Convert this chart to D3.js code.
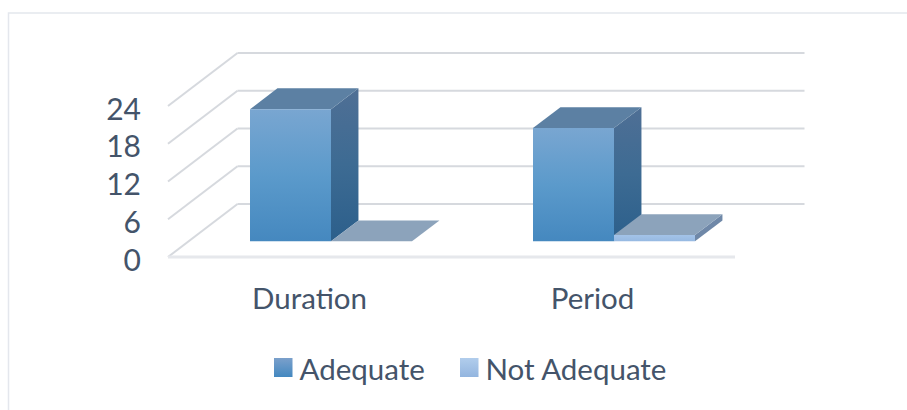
<!DOCTYPE html>
<html>
<head>
<meta charset="utf-8">
<title>Adequacy by duration and period</title>
<script src="https://cdnjs.cloudflare.com/ajax/libs/d3/7.8.5/d3.min.js"></script>
<style>
  html, body { margin: 0; padding: 0; background: #fff; }
  svg { display: block; }
  text { font-family: Lato, "Noto Sans", sans-serif; fill: #44546a; }
</style>
</head>
<body>
<svg id="chart" width="907" height="410"></svg>
<script>
const categories = ['Duration', 'Period'];
const seriesNames = ['Adequate', 'Not Adequate'];
const adequate = [21, 18];
const notAdequate = [0, 1];
const tickLabels = [0, 6, 12, 18, 24];

const svg = d3.select('#chart');
const defs = svg.append('defs');

// Vertical gradients, one per painted surface
function addGradient(id, stops, x2 = 0, y2 = 1) {
  const g = defs.append('linearGradient')
    .attr('id', id)
    .attr('x1', 0).attr('y1', 0)
    .attr('x2', x2).attr('y2', y2);
  stops.forEach(([offset, color]) => {
    g.append('stop').attr('offset', offset).attr('stop-color', color);
  });
}
addGradient('front-a', [[0, '#79a6d1'], [0.5, '#5b9acb'], [1, '#4588bf']]);
addGradient('side-a', [[0, '#4f6f95'], [0.5, '#3d6b93'], [1, '#2c5f8b']]);
addGradient('front-b', [[0, '#a3c3e8'], [1, '#96b9e2']]);
addGradient('swatch-a', [[0, '#7ba0cb'], [1, '#4388c0']]);
addGradient('swatch-b', [[0, '#b1cdec'], [1, '#93b5df']]);

const surfaces = [
  { front: 'url(#front-a)', side: 'url(#side-a)', top: '#5c80a3' },
  { front: 'url(#front-b)', side: '#6f88a8', top: '#8ca3bb' }
];

// Plot box: x along the front edge of the floor, y up the front wall
const x = d3.scaleBand().domain(categories).range([168, 734]);
const xInner = d3.scaleBand().domain(seriesNames).range([61.5, 223.5]);
const y = d3.scaleLinear().domain([0, 24]).range([257, 106]);

// Oblique depth: z = 0 at the front of the floor, z = 1 at the back wall
const depthX = d3.scaleLinear().domain([0, 1]).range([0, 69.5]);
const depthY = d3.scaleLinear().domain([0, 1]).range([0, -53]);
const project = (px, value, z) => [px + depthX(z), y(value) + depthY(z)];
const line = d3.line();

// Frame: only the top and left edges fall inside the page
svg.append('path')
  .attr('d', line([[8.5, 410], [8.5, 13], [907, 13]]))
  .attr('fill', 'none')
  .attr('stroke', '#e4e7ed')
  .attr('stroke-width', 1.5);

// Gridlines on the left and back walls
const grid = svg.append('g').attr('fill', 'none').attr('stroke', '#d6d9de').attr('stroke-width', 2);
tickLabels.forEach((t) => {
  grid.append('path').attr('d', line([project(168, t, 0), project(168, t, 1)]));
  grid.append('path').attr('d', line([project(168, t, 1), project(735, t, 1)]));
});

// Front edge of the floor
svg.append('path')
  .attr('d', line([project(168, 0, 0), project(735, 0, 0)]))
  .attr('stroke', '#e6e8ec')
  .attr('stroke-width', 3);

// Bars: each is an extruded box between z0 and z1
const z0 = 0.295;
const z1 = 0.69;
const series = [adequate, notAdequate];
const barsGroup = svg.append('g');

categories.forEach((cat, c) => {
  series.forEach((values, s) => {
    const left = x(cat) + xInner(seriesNames[s]);
    const right = left + xInner.bandwidth();
    const v = values[c];
    const style = surfaces[s];
    const box = barsGroup.append('g');

    box.append('path')
      .attr('d', line([
        project(right, 0, z0), project(right, 0, z1),
        project(right, v, z1), project(right, v, z0)
      ]) + 'Z')
      .attr('fill', style.side);
    box.append('path')
      .attr('d', line([
        project(left, v, z0), project(right, v, z0),
        project(right, v, z1), project(left, v, z1)
      ]) + 'Z')
      .attr('fill', style.top);
    box.append('path')
      .attr('d', line([
        project(left, 0, z0), project(right, 0, z0),
        project(right, v, z0), project(left, v, z0)
      ]) + 'Z')
      .attr('fill', style.front);
  });
});

// Value axis labels
const yAxis = d3.axisLeft(y).tickValues(tickLabels).tickSize(0).tickPadding(0);
svg.append('g')
  .attr('transform', 'translate(141,3.5)')
  .call(yAxis)
  .call((g) => g.select('.domain').remove())
  .call((g) => g.selectAll('text').attr('font-size', 30));

// Category labels
const xAxis = d3.axisBottom(x).tickSize(0).tickPadding(0);
svg.append('g')
  .attr('transform', 'translate(0,288)')
  .call(xAxis)
  .call((g) => g.select('.domain').remove())
  .call((g) => g.selectAll('text').attr('font-size', 29.5));

// Legend
const legendX = [274, 460];
const legendFill = ['url(#swatch-a)', 'url(#swatch-b)'];
seriesNames.forEach((name, i) => {
  svg.append('rect')
    .attr('x', legendX[i]).attr('y', 358)
    .attr('width', 18.5).attr('height', 19)
    .attr('fill', legendFill[i]);
  svg.append('text')
    .attr('x', legendX[i] + 25.5).attr('y', 380)
    .attr('font-size', 29.5)
    .text(name);
});
</script>
</body>
</html>
